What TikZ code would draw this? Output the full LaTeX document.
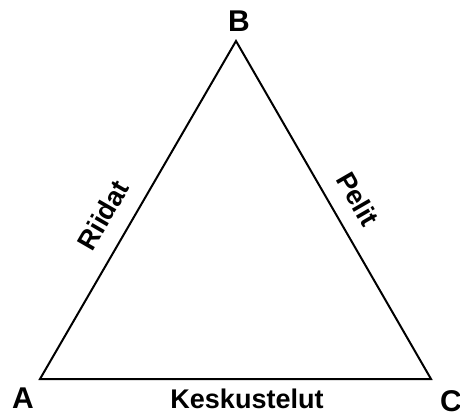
\documentclass[tikz,border=0pt]{standalone}
\usepackage{fontspec}
\setmainfont{Liberation Sans}
\begin{document}
\begin{tikzpicture}[x=1pt,y=-1pt,
  vlabel/.style={font=\fontsize{30}{30}\selectfont\bfseries, inner sep=0pt},
  slabel/.style={font=\fontsize{27}{27}\selectfont\bfseries, inner sep=0pt},
  edge/.style={line width=2pt, line join=miter}]
\useasboundingbox (0,0) rectangle (460,412);
\coordinate (A) at (40,379);
\coordinate (B) at (236,41);
\coordinate (C) at (431,379);
\draw[edge] (A) -- (B) -- (C) -- cycle;
\node[vlabel] (lB) at (239,21) {B};
\node[vlabel] (lA) at (23,398) {A};
\node[vlabel] (lC) at (451,401) {C};
\node[slabel, rotate=60] (riidat) at (103,215) {Riidat};
\node[slabel, rotate=-60] (pelit) at (358,199) {Pelit};
\node[slabel] (kesk) at (247,399) {Keskustelut};
\end{tikzpicture}
\end{document}
